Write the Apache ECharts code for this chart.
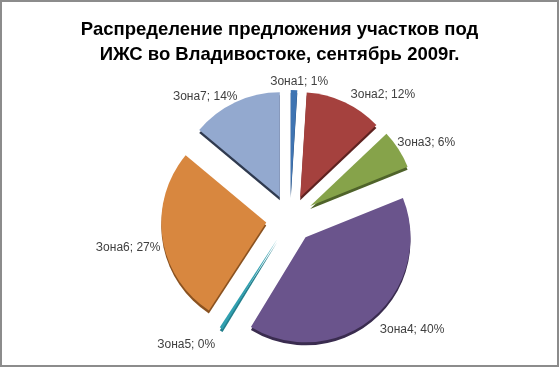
<!DOCTYPE html>
<html>
<head>
<meta charset="utf-8">
<script src="https://cdn.jsdelivr.net/npm/echarts@6/dist/echarts.min.js"></script>
<style>
html,body{margin:0;padding:0;background:#fff;}
#frame{position:absolute;left:0;top:0;width:559px;height:367px;box-sizing:border-box;border:2px solid #8c8c8c;background:#fff;}
#chart{position:absolute;left:0;top:0;width:559px;height:367px;}
</style>
</head>
<body>
<div id="frame"></div>
<div id="chart"></div>
<script>
const titleLines = ['Распределение предложения участков под', 'ИЖС во Владивостоке, сентябрь 2009г.'];
const categories = ['Зона1', 'Зона2', 'Зона3', 'Зона4', 'Зона5', 'Зона6', 'Зона7'];
const values = [1, 12, 6, 40, 0.5, 27, 14];

const colors = ['#3F74B2', '#A5413E', '#86A34A', '#6A548C', '#31A0B0', '#D8873F', '#93A9CF'];
const depthColors = ['#24466f', '#5e2220', '#4f632a', '#3a2c4f', '#237f8c', '#8a5220', '#2f3a4f'];

function labelNudge(i) {
  // small styling nudges so labels sit where the original (Excel "best fit") put them
  switch (i) {
    case 0: return {align: 'center', dy: -6};
    case 1: return {dy: -6};
    case 2: return {dx: -8, dy: -6};
    case 3: return {dy: 11};
    case 4: return {dy: 15};
    case 5: return {dx: 5, dy: 9};
    case 6: return {dx: 8, dy: -4};
  }
  return {};
}

const chart = echarts.init(document.getElementById('chart'), null, {renderer: 'canvas'});
const data = categories.map((c, i) => ({
  name: c,
  value: values[i],
  selected: true,
  itemStyle: {
    color: colors[i],
    shadowColor: depthColors[i],
    shadowOffsetY: 3,
    shadowOffsetX: 0,
    shadowBlur: 0
  }
}));
chart.setOption({
  backgroundColor: 'transparent',
  animation: false,
  title: {
    text: titleLines.join('\n'),
    left: 'center',
    top: 12,
    textStyle: {
      fontFamily: 'Liberation Sans',
      fontSize: 18.5,
      fontWeight: 'bold',
      color: '#000',
      lineHeight: 25
    }
  },
  series: [{
    type: 'pie',
    center: [290, 219],
    radius: 105,
    startAngle: 90,
    clockwise: true,
    selectedMode: 'multiple',
    selectedOffset: 24,
    percentPrecision: 0,
    avoidLabelOverlap: false,
    labelLayout: function (p) {
      return Object.assign({hideOverlap: false}, labelNudge(p.dataIndex));
    },
    data: data,
    label: {
      show: true,
      position: 'outside',
      formatter: '{b}; {d}%',
      fontFamily: 'Liberation Sans',
      fontSize: 12,
      color: '#404040'
    },
    labelLine: {show: false, length: 2, length2: 0},
    emphasis: {disabled: true}
  }]
});
</script>
</body>
</html>
